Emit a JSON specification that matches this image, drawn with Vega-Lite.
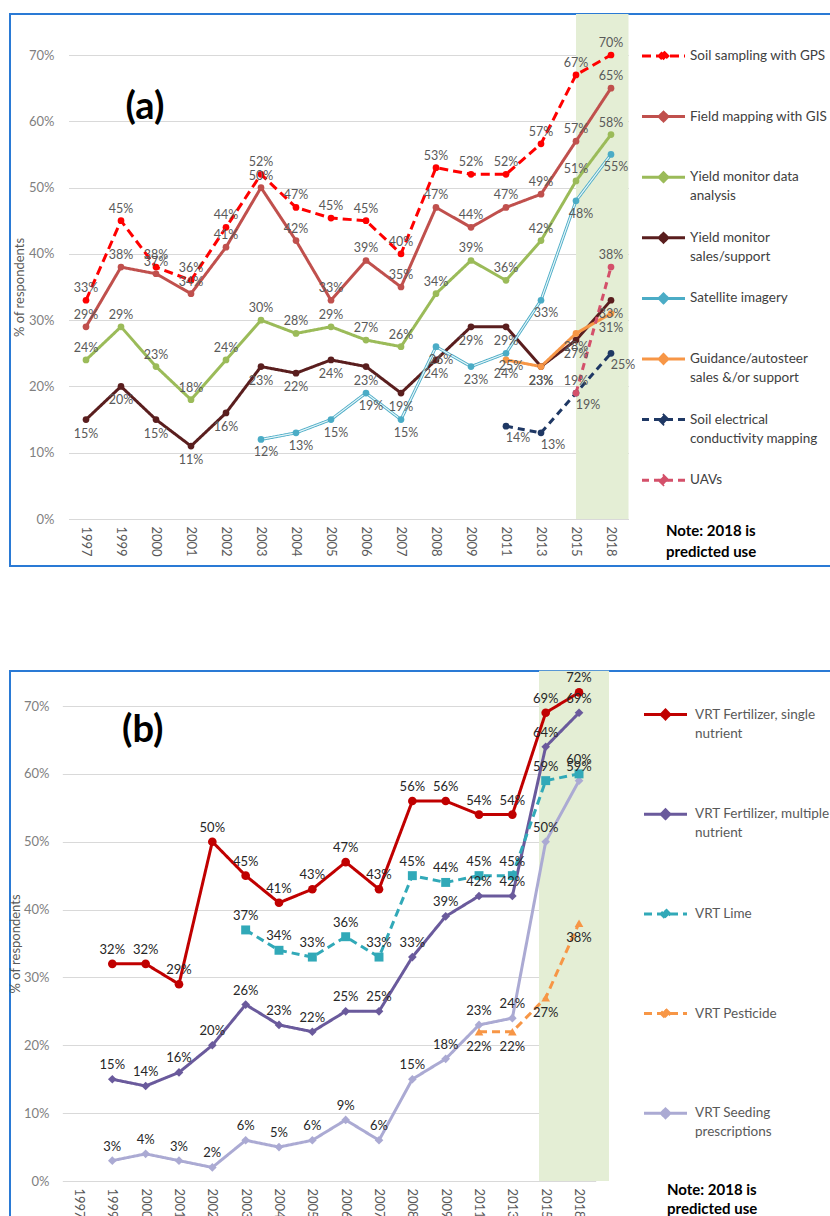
{
"$schema":"https://vega.github.io/schema/vega-lite/v6.json",
"padding":{"left":8,"top":12,"right":0,"bottom":0},
"background":"white",
"spacing":102,
"resolve":{"scale":{"color":"independent","strokeDash":"independent"},"legend":{"color":"independent","strokeDash":"independent"}},
"config":{
 "font":"Lato",
 "view":{"stroke":"#2A7AD5","strokeWidth":2},
 "axis":{"labelFont":"Lato","titleFont":"Lato","domain":false,"ticks":false,"gridColor":"#D9D9D9","labelColor":"#7F7F7F","titleColor":"#595959","titleFontWeight":"normal","labelFontSize":13,"titleFontSize":13}
},
"datasets":{
"a":[
{"series":"Soil sampling with GPS","year":"1997","pct":0.33},{"series":"Soil sampling with GPS","year":"1999","pct":0.45},{"series":"Soil sampling with GPS","year":"2000","pct":0.38},{"series":"Soil sampling with GPS","year":"2001","pct":0.36},{"series":"Soil sampling with GPS","year":"2002","pct":0.44},{"series":"Soil sampling with GPS","year":"2003","pct":0.52},{"series":"Soil sampling with GPS","year":"2004","pct":0.47},{"series":"Soil sampling with GPS","year":"2005","pct":0.454},{"series":"Soil sampling with GPS","year":"2006","pct":0.45},{"series":"Soil sampling with GPS","year":"2007","pct":0.40},{"series":"Soil sampling with GPS","year":"2008","pct":0.53},{"series":"Soil sampling with GPS","year":"2009","pct":0.52},{"series":"Soil sampling with GPS","year":"2011","pct":0.52},{"series":"Soil sampling with GPS","year":"2013","pct":0.566},{"series":"Soil sampling with GPS","year":"2015","pct":0.67},{"series":"Soil sampling with GPS","year":"2018","pct":0.70},
{"series":"Field mapping with GIS","year":"1997","pct":0.29},{"series":"Field mapping with GIS","year":"1999","pct":0.38},{"series":"Field mapping with GIS","year":"2000","pct":0.37},{"series":"Field mapping with GIS","year":"2001","pct":0.34},{"series":"Field mapping with GIS","year":"2002","pct":0.41},{"series":"Field mapping with GIS","year":"2003","pct":0.50},{"series":"Field mapping with GIS","year":"2004","pct":0.42},{"series":"Field mapping with GIS","year":"2005","pct":0.33},{"series":"Field mapping with GIS","year":"2006","pct":0.39},{"series":"Field mapping with GIS","year":"2007","pct":0.35},{"series":"Field mapping with GIS","year":"2008","pct":0.47},{"series":"Field mapping with GIS","year":"2009","pct":0.44},{"series":"Field mapping with GIS","year":"2011","pct":0.47},{"series":"Field mapping with GIS","year":"2013","pct":0.49},{"series":"Field mapping with GIS","year":"2015","pct":0.57},{"series":"Field mapping with GIS","year":"2018","pct":0.65},
{"series":"Yield monitor data analysis","year":"1997","pct":0.24},{"series":"Yield monitor data analysis","year":"1999","pct":0.29},{"series":"Yield monitor data analysis","year":"2000","pct":0.23},{"series":"Yield monitor data analysis","year":"2001","pct":0.18},{"series":"Yield monitor data analysis","year":"2002","pct":0.24},{"series":"Yield monitor data analysis","year":"2003","pct":0.30},{"series":"Yield monitor data analysis","year":"2004","pct":0.28},{"series":"Yield monitor data analysis","year":"2005","pct":0.29},{"series":"Yield monitor data analysis","year":"2006","pct":0.27},{"series":"Yield monitor data analysis","year":"2007","pct":0.26},{"series":"Yield monitor data analysis","year":"2008","pct":0.34},{"series":"Yield monitor data analysis","year":"2009","pct":0.39},{"series":"Yield monitor data analysis","year":"2011","pct":0.36},{"series":"Yield monitor data analysis","year":"2013","pct":0.42},{"series":"Yield monitor data analysis","year":"2015","pct":0.51},{"series":"Yield monitor data analysis","year":"2018","pct":0.58},
{"series":"Yield monitor sales/support","year":"1997","pct":0.15},{"series":"Yield monitor sales/support","year":"1999","pct":0.20},{"series":"Yield monitor sales/support","year":"2000","pct":0.15},{"series":"Yield monitor sales/support","year":"2001","pct":0.11},{"series":"Yield monitor sales/support","year":"2002","pct":0.16},{"series":"Yield monitor sales/support","year":"2003","pct":0.23},{"series":"Yield monitor sales/support","year":"2004","pct":0.22},{"series":"Yield monitor sales/support","year":"2005","pct":0.24},{"series":"Yield monitor sales/support","year":"2006","pct":0.23},{"series":"Yield monitor sales/support","year":"2007","pct":0.19},{"series":"Yield monitor sales/support","year":"2008","pct":0.24},{"series":"Yield monitor sales/support","year":"2009","pct":0.29},{"series":"Yield monitor sales/support","year":"2011","pct":0.29},{"series":"Yield monitor sales/support","year":"2013","pct":0.23},{"series":"Yield monitor sales/support","year":"2015","pct":0.27},{"series":"Yield monitor sales/support","year":"2018","pct":0.33},
{"series":"Satellite imagery","year":"2003","pct":0.12},{"series":"Satellite imagery","year":"2004","pct":0.13},{"series":"Satellite imagery","year":"2005","pct":0.15},{"series":"Satellite imagery","year":"2006","pct":0.19},{"series":"Satellite imagery","year":"2007","pct":0.15},{"series":"Satellite imagery","year":"2008","pct":0.26},{"series":"Satellite imagery","year":"2009","pct":0.23},{"series":"Satellite imagery","year":"2011","pct":0.25},{"series":"Satellite imagery","year":"2013","pct":0.33},{"series":"Satellite imagery","year":"2015","pct":0.48},{"series":"Satellite imagery","year":"2018","pct":0.55},
{"series":"Guidance/autosteer sales &/or support","year":"2011","pct":0.24},{"series":"Guidance/autosteer sales &/or support","year":"2013","pct":0.23},{"series":"Guidance/autosteer sales &/or support","year":"2015","pct":0.28},{"series":"Guidance/autosteer sales &/or support","year":"2018","pct":0.31},
{"series":"Soil electrical conductivity mapping","year":"2011","pct":0.14},{"series":"Soil electrical conductivity mapping","year":"2013","pct":0.13},{"series":"Soil electrical conductivity mapping","year":"2015","pct":0.19},{"series":"Soil electrical conductivity mapping","year":"2018","pct":0.25},
{"series":"UAVs","year":"2015","pct":0.19},{"series":"UAVs","year":"2018","pct":0.38}
],
"b":[
{"series":"VRT Fertilizer, single nutrient","year":"1999","pct":0.32},{"series":"VRT Fertilizer, single nutrient","year":"2000","pct":0.32},{"series":"VRT Fertilizer, single nutrient","year":"2001","pct":0.29},{"series":"VRT Fertilizer, single nutrient","year":"2002","pct":0.50},{"series":"VRT Fertilizer, single nutrient","year":"2003","pct":0.45},{"series":"VRT Fertilizer, single nutrient","year":"2004","pct":0.41},{"series":"VRT Fertilizer, single nutrient","year":"2005","pct":0.43},{"series":"VRT Fertilizer, single nutrient","year":"2006","pct":0.47},{"series":"VRT Fertilizer, single nutrient","year":"2007","pct":0.43},{"series":"VRT Fertilizer, single nutrient","year":"2008","pct":0.56},{"series":"VRT Fertilizer, single nutrient","year":"2009","pct":0.56},{"series":"VRT Fertilizer, single nutrient","year":"2011","pct":0.54},{"series":"VRT Fertilizer, single nutrient","year":"2013","pct":0.54},{"series":"VRT Fertilizer, single nutrient","year":"2015","pct":0.69},{"series":"VRT Fertilizer, single nutrient","year":"2018","pct":0.72},
{"series":"VRT Fertilizer, multiple nutrient","year":"1999","pct":0.15},{"series":"VRT Fertilizer, multiple nutrient","year":"2000","pct":0.14},{"series":"VRT Fertilizer, multiple nutrient","year":"2001","pct":0.16},{"series":"VRT Fertilizer, multiple nutrient","year":"2002","pct":0.20},{"series":"VRT Fertilizer, multiple nutrient","year":"2003","pct":0.26},{"series":"VRT Fertilizer, multiple nutrient","year":"2004","pct":0.23},{"series":"VRT Fertilizer, multiple nutrient","year":"2005","pct":0.22},{"series":"VRT Fertilizer, multiple nutrient","year":"2006","pct":0.25},{"series":"VRT Fertilizer, multiple nutrient","year":"2007","pct":0.25},{"series":"VRT Fertilizer, multiple nutrient","year":"2008","pct":0.33},{"series":"VRT Fertilizer, multiple nutrient","year":"2009","pct":0.39},{"series":"VRT Fertilizer, multiple nutrient","year":"2011","pct":0.42},{"series":"VRT Fertilizer, multiple nutrient","year":"2013","pct":0.42},{"series":"VRT Fertilizer, multiple nutrient","year":"2015","pct":0.64},{"series":"VRT Fertilizer, multiple nutrient","year":"2018","pct":0.69},
{"series":"VRT Lime","year":"2003","pct":0.37},{"series":"VRT Lime","year":"2004","pct":0.34},{"series":"VRT Lime","year":"2005","pct":0.33},{"series":"VRT Lime","year":"2006","pct":0.36},{"series":"VRT Lime","year":"2007","pct":0.33},{"series":"VRT Lime","year":"2008","pct":0.45},{"series":"VRT Lime","year":"2009","pct":0.44},{"series":"VRT Lime","year":"2011","pct":0.45},{"series":"VRT Lime","year":"2013","pct":0.45},{"series":"VRT Lime","year":"2015","pct":0.59},{"series":"VRT Lime","year":"2018","pct":0.60},
{"series":"VRT Pesticide","year":"2011","pct":0.22},{"series":"VRT Pesticide","year":"2013","pct":0.22},{"series":"VRT Pesticide","year":"2015","pct":0.27},{"series":"VRT Pesticide","year":"2018","pct":0.38},
{"series":"VRT Seeding prescriptions","year":"1999","pct":0.03},{"series":"VRT Seeding prescriptions","year":"2000","pct":0.04},{"series":"VRT Seeding prescriptions","year":"2001","pct":0.03},{"series":"VRT Seeding prescriptions","year":"2002","pct":0.02},{"series":"VRT Seeding prescriptions","year":"2003","pct":0.06},{"series":"VRT Seeding prescriptions","year":"2004","pct":0.05},{"series":"VRT Seeding prescriptions","year":"2005","pct":0.06},{"series":"VRT Seeding prescriptions","year":"2006","pct":0.09},{"series":"VRT Seeding prescriptions","year":"2007","pct":0.06},{"series":"VRT Seeding prescriptions","year":"2008","pct":0.15},{"series":"VRT Seeding prescriptions","year":"2009","pct":0.18},{"series":"VRT Seeding prescriptions","year":"2011","pct":0.23},{"series":"VRT Seeding prescriptions","year":"2013","pct":0.24},{"series":"VRT Seeding prescriptions","year":"2015","pct":0.50},{"series":"VRT Seeding prescriptions","year":"2018","pct":0.59}
]
},
"vconcat":[
{
 "width":821,"height":552,
 "layer":[
  {"data":{"values":[{}]},"mark":{"type":"rect","fill":"#E4EED5"},"encoding":{"x":{"datum":"2015","type":"ordinal","bandPosition":0.5},"x2":{"datum":"2018","bandPosition":1},"y":{"datum":0,"type":"quantitative"},"y2":{"datum":0.762}}},
  {
   "data":{"name":"a"},
   "encoding":{
    "x":{"field":"year","type":"ordinal","scale":{"type":"band","domain":["1997","1999","2000","2001","2002","2003","2004","2005","2006","2007","2008","2009","2011","2013","2015","2018"],"range":[58.5,618.5],"paddingInner":0,"paddingOuter":0},"axis":{"title":null,"labelAngle":90,"labelAlign":"left","labelBaseline":"middle","labelPadding":7,"offset":-47,"grid":false,"labelColor":"#595959"}},
    "y":{"field":"pct","type":"quantitative","scale":{"domain":[0,0.7],"range":[505,41],"nice":false},"axis":{"title":"% of respondents","values":[0,0.1,0.2,0.3,0.4,0.5,0.6,0.7],"format":".0%","offset":-47,"labelPadding":3,"titlePadding":2,"grid":true}}
   },
   "layer":[
    {"mark":{"type":"line","strokeWidth":3},"encoding":{
      "color":{"field":"series","type":"nominal","scale":{"domain":["Soil sampling with GPS","Field mapping with GIS","Yield monitor data analysis","Yield monitor sales/support","Satellite imagery","Guidance/autosteer sales &/or support","Soil electrical conductivity mapping","UAVs"],"range":["#FF0000","#C0504D","#9BBB59","#5A1E1E","#4BACC6","#F79646","#1F3864","#D4506A"]},
        "legend":{"orient":"none","legendX":630.5,"legendY":16,"title":null,"padding":0,"symbolType":"M-1,0L1,0M0,-0.2L0.2,0L0,0.2L-0.2,0Z","symbolSize":1849,"symbolStrokeWidth":3,"clipHeight":52,"rowPadding":8.6,"labelFont":"Lato","labelFontSize":13.5,"labelColor":"#404040","labelOffset":3.5,"labelLimit":300,"encode":{"labels":{"update":{"lineHeight":{"value":19}}}},
        "labelExpr":"datum.label == 'Yield monitor data analysis' ? ['Yield monitor data','analysis'] : datum.label == 'Yield monitor sales/support' ? ['Yield monitor','sales/support'] : datum.label == 'Guidance/autosteer sales &/or support' ? ['Guidance/autosteer','sales &/or support'] : datum.label == 'Soil electrical conductivity mapping' ? ['Soil electrical','conductivity mapping'] : datum.label"}},
      "strokeDash":{"field":"series","type":"nominal","scale":{"domain":["Soil sampling with GPS","Field mapping with GIS","Yield monitor data analysis","Yield monitor sales/support","Satellite imagery","Guidance/autosteer sales &/or support","Soil electrical conductivity mapping","UAVs"],"range":[[9,5],[1,0],[1,0],[1,0],[1,0],[1,0],[7,5],[7,5]]},
        "legend":{"orient":"none","legendX":630.5,"legendY":16,"title":null,"padding":0,"symbolType":"M-1,0L1,0M0,-0.2L0.2,0L0,0.2L-0.2,0Z","symbolSize":1849,"symbolStrokeWidth":3,"clipHeight":52,"rowPadding":8.6,"labelFont":"Lato","labelFontSize":13.5,"labelColor":"#404040","labelOffset":3.5,"labelLimit":300,"encode":{"labels":{"update":{"lineHeight":{"value":19}}}},
        "labelExpr":"datum.label == 'Yield monitor data analysis' ? ['Yield monitor data','analysis'] : datum.label == 'Yield monitor sales/support' ? ['Yield monitor','sales/support'] : datum.label == 'Guidance/autosteer sales &/or support' ? ['Guidance/autosteer','sales &/or support'] : datum.label == 'Soil electrical conductivity mapping' ? ['Soil electrical','conductivity mapping'] : datum.label"}}
    }},
    {"transform":[{"filter":{"field":"series","equal":"Satellite imagery"}}],"mark":{"type":"line","stroke":"#E6F5F9","strokeWidth":1.2}},
    {"mark":{"type":"point","filled":true,"size":45,"opacity":1,"shape":"circle"},"encoding":{"color":{"field":"series","type":"nominal","legend":null}}},
    {"transform":[{"filter":{"field":"series","oneOf":["Soil sampling with GPS","Field mapping with GIS","Yield monitor data analysis","UAVs"]}}],"mark":{"type":"text","dy":-12,"fontSize":12.5,"color":"#595959"},"encoding":{"text":{"field":"pct","type":"quantitative","format":".0%"}}},
    {"transform":[{"filter":{"field":"series","oneOf":["Yield monitor sales/support","Guidance/autosteer sales &/or support"]}}],"mark":{"type":"text","dy":14,"fontSize":12.5,"color":"#595959"},"encoding":{"text":{"field":"pct","type":"quantitative","format":".0%"}}},
    {"transform":[{"filter":{"field":"series","oneOf":["Satellite imagery"]}}],"mark":{"type":"text","dy":13,"dx":5,"fontSize":12.5,"color":"#595959"},"encoding":{"text":{"field":"pct","type":"quantitative","format":".0%"}}},
    {"transform":[{"filter":{"field":"series","oneOf":["Soil electrical conductivity mapping"]}}],"mark":{"type":"text","dy":12,"dx":12,"fontSize":12.5,"color":"#595959"},"encoding":{"text":{"field":"pct","type":"quantitative","format":".0%"}}}
   ]
  },
  {"data":{"values":[{}]},"mark":{"type":"text","text":"(a)","fontSize":38,"fontWeight":"bold","color":"#000000","dx":-11,"align":"center","baseline":"alphabetic"},"encoding":{"x":{"datum":"2000","type":"ordinal"},"y":{"datum":0.603,"type":"quantitative"}}},
  {"data":{"values":[{}]},"mark":{"type":"text","text":["Note: 2018 is","predicted use"],"fontSize":15,"fontWeight":"bold","color":"#000000","dx":55,"align":"left","baseline":"top","lineHeight":21},"encoding":{"x":{"datum":"2018","type":"ordinal"},"y":{"datum":-0.008,"type":"quantitative"}}}
 ]
},
{
 "width":821,"height":549,
 "layer":[
  {"data":{"values":[{}]},"mark":{"type":"rect","fill":"#E4EED5"},"encoding":{"x":{"datum":"2015","type":"ordinal","bandPosition":0.3},"x2":{"datum":"2018","bandPosition":1.4},"y":{"datum":0,"type":"quantitative"},"y2":{"datum":0.752}}},
  {
   "data":{"name":"b"},
   "encoding":{
    "x":{"field":"year","type":"ordinal","scale":{"type":"band","domain":["1997","1999","2000","2001","2002","2003","2004","2005","2006","2007","2008","2009","2011","2013","2015","2018"],"range":[52.3,585.7],"paddingInner":0,"paddingOuter":0},"axis":{"title":null,"labelAngle":90,"labelAlign":"left","labelBaseline":"middle","labelPadding":7,"offset":-39,"grid":false,"labelColor":"#595959"}},
    "y":{"field":"pct","type":"quantitative","scale":{"domain":[0,0.7],"range":[510,35],"nice":false},"axis":{"title":"% of respondents","values":[0,0.1,0.2,0.3,0.4,0.5,0.6,0.7],"format":".0%","offset":-42,"labelPadding":3,"titlePadding":1,"grid":true}}
   },
   "layer":[
    {"mark":{"type":"line","strokeWidth":3},"encoding":{
      "color":{"field":"series","type":"nominal","scale":{"domain":["VRT Fertilizer, single nutrient","VRT Fertilizer, multiple nutrient","VRT Lime","VRT Pesticide","VRT Seeding prescriptions"],"range":["#C00000","#6A5A9C","#31A9B8","#F79646","#ABAAD3"]},
        "legend":{"orient":"none","legendX":632.5,"legendY":17.5,"title":null,"padding":0,"symbolType":"M-1,0L1,0M0,-0.2L0.2,0L0,0.2L-0.2,0Z","symbolSize":1849,"symbolStrokeWidth":3,"clipHeight":52,"rowPadding":47.7,"labelFont":"Lato","labelFontSize":13.5,"labelColor":"#595959","labelOffset":6.5,"labelLimit":300,"encode":{"labels":{"update":{"lineHeight":{"value":19}}}},
        "labelExpr":"datum.label == 'VRT Fertilizer, single nutrient' ? ['VRT Fertilizer, single','nutrient'] : datum.label == 'VRT Fertilizer, multiple nutrient' ? ['VRT Fertilizer, multiple','nutrient'] : datum.label == 'VRT Seeding prescriptions' ? ['VRT Seeding','prescriptions'] : datum.label"}},
      "strokeDash":{"field":"series","type":"nominal","scale":{"domain":["VRT Fertilizer, single nutrient","VRT Fertilizer, multiple nutrient","VRT Lime","VRT Pesticide","VRT Seeding prescriptions"],"range":[[1,0],[1,0],[8,5],[8,5],[1,0]]},
        "legend":{"orient":"none","legendX":632.5,"legendY":17.5,"title":null,"padding":0,"symbolType":"M-1,0L1,0M0,-0.2L0.2,0L0,0.2L-0.2,0Z","symbolSize":1849,"symbolStrokeWidth":3,"clipHeight":52,"rowPadding":47.7,"labelFont":"Lato","labelFontSize":13.5,"labelColor":"#595959","labelOffset":6.5,"labelLimit":300,"encode":{"labels":{"update":{"lineHeight":{"value":19}}}},
        "labelExpr":"datum.label == 'VRT Fertilizer, single nutrient' ? ['VRT Fertilizer, single','nutrient'] : datum.label == 'VRT Fertilizer, multiple nutrient' ? ['VRT Fertilizer, multiple','nutrient'] : datum.label == 'VRT Seeding prescriptions' ? ['VRT Seeding','prescriptions'] : datum.label"}}
    }},
    {"transform":[{"filter":{"field":"series","equal":"VRT Fertilizer, single nutrient"}}],"mark":{"type":"point","filled":true,"size":75,"opacity":1,"shape":"circle"},"encoding":{"color":{"field":"series","type":"nominal","legend":null}}},
    {"transform":[{"filter":{"field":"series","oneOf":["VRT Fertilizer, multiple nutrient","VRT Seeding prescriptions"]}}],"mark":{"type":"point","filled":true,"size":75,"opacity":1,"shape":"diamond"},"encoding":{"color":{"field":"series","type":"nominal","legend":null}}},
    {"transform":[{"filter":{"field":"series","equal":"VRT Lime"}}],"mark":{"type":"point","filled":true,"size":80,"opacity":1,"shape":"square"},"encoding":{"color":{"field":"series","type":"nominal","legend":null}}},
    {"transform":[{"filter":{"field":"series","equal":"VRT Pesticide"}}],"mark":{"type":"point","filled":true,"size":75,"opacity":1,"shape":"triangle-up"},"encoding":{"color":{"field":"series","type":"nominal","legend":null}}},
    {"transform":[{"filter":{"field":"series","oneOf":["VRT Fertilizer, single nutrient","VRT Fertilizer, multiple nutrient","VRT Lime","VRT Seeding prescriptions"]}}],"mark":{"type":"text","dy":-14,"fontSize":13,"color":"#262626"},"encoding":{"text":{"field":"pct","type":"quantitative","format":".0%"}}},
    {"transform":[{"filter":{"field":"series","oneOf":["VRT Pesticide"]}}],"mark":{"type":"text","dy":15,"fontSize":13,"color":"#262626"},"encoding":{"text":{"field":"pct","type":"quantitative","format":".0%"}}}
   ]
  },
  {"data":{"values":[{}]},"mark":{"type":"text","text":"(b)","fontSize":38,"fontWeight":"bold","color":"#000000","dx":-3,"align":"center","baseline":"alphabetic"},"encoding":{"x":{"datum":"2000","type":"ordinal"},"y":{"datum":0.647,"type":"quantitative"}}},
  {"data":{"values":[{}]},"mark":{"type":"text","text":["Note: 2018 is","predicted use"],"fontSize":15,"fontWeight":"bold","color":"#000000","dx":88,"align":"left","baseline":"top","lineHeight":19},"encoding":{"x":{"datum":"2018","type":"ordinal"},"y":{"datum":-0.003,"type":"quantitative"}}}
 ]
}
]
}
